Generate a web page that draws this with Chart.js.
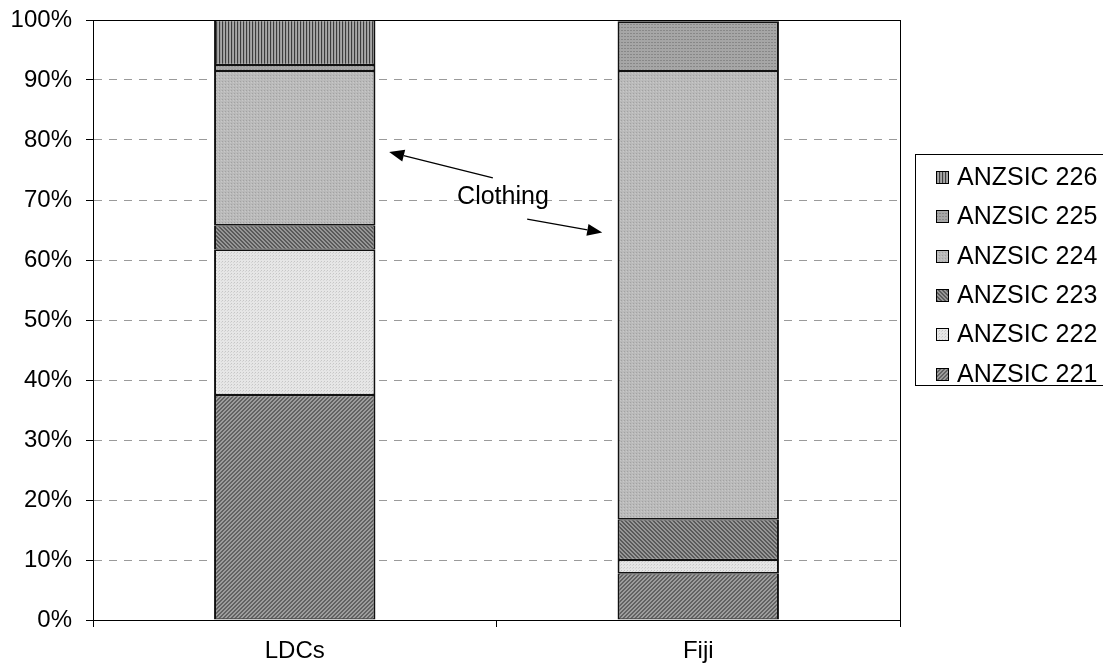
<!DOCTYPE html>
<html>
<head>
<meta charset="utf-8">
<script src="https://cdn.jsdelivr.net/npm/chart.js@4"></script>
<style>
  html, body { margin: 0; padding: 0; background: #fff; }
  #wrap { width: 1103px; height: 670px; }
</style>
</head>
<body>
<div id="wrap"><canvas id="c"></canvas></div>
<script>
// Share of output by ANZSIC class (percent of 100)
const categories = ['LDCs', 'Fiji'];
const seriesNames = ['ANZSIC 221', 'ANZSIC 222', 'ANZSIC 223', 'ANZSIC 224', 'ANZSIC 225', 'ANZSIC 226'];
const anzsic221 = [37.5, 7.8];
const anzsic222 = [24.2, 2.2];
const anzsic223 = [4.1, 6.8];
const anzsic224 = [25.7, 74.7];
const anzsic225 = [1.0, 8.2];
const anzsic226 = [7.5, 0.3];
const yTickLabels = ['0%', '10%', '20%', '30%', '40%', '50%', '60%', '70%', '80%', '90%', '100%'];
const noteText = 'Clothing';

const FONT = "'Liberation Sans', Arial, sans-serif";

// Small repeating tiles used as hatch fills
function makePattern(w, h, paint) {
  const c = document.createElement('canvas');
  c.width = w; c.height = h;
  const g = c.getContext('2d');
  paint(g, w, h);
  return g.createPattern(c, 'repeat');
}
function dot(g, x, y, col) { g.fillStyle = col; g.fillRect(x, y, 1, 1); }

const fill221 = makePattern(4, 4, (g, w, h) => {
  for (let y = 0; y < h; y++) for (let x = 0; x < w; x++)
    dot(g, x, y, ((x + y) % 4) < 2 ? '#626262' : '#9c9c9c');
});
const fill222 = makePattern(3, 3, (g, w, h) => {
  g.fillStyle = '#e6e6e6'; g.fillRect(0, 0, w, h);
  dot(g, 0, 0, '#c6c6c6'); dot(g, 2, 1, '#d4d4d4');
});
const fill223 = makePattern(4, 4, (g, w, h) => {
  for (let y = 0; y < h; y++) for (let x = 0; x < w; x++)
    dot(g, x, y, ((x - y + 8) % 4) < 2 ? '#5a5a5a' : '#969696');
});
const fill224 = makePattern(3, 3, (g, w, h) => {
  g.fillStyle = '#bababa'; g.fillRect(0, 0, w, h);
  dot(g, 0, 0, '#a2a2a2'); dot(g, 2, 1, '#c8c8c8');
});
const fill225 = makePattern(3, 3, (g, w, h) => {
  g.fillStyle = '#a6a6a6'; g.fillRect(0, 0, w, h);
  dot(g, 0, 0, '#888888'); dot(g, 1, 0, '#888888');
});
const fill226 = makePattern(3, 1, (g) => {
  dot(g, 0, 0, '#3c3c3c'); dot(g, 1, 0, '#9a9a9a'); dot(g, 2, 0, '#a8a8a8');
});

const seriesValues = [anzsic221, anzsic222, anzsic223, anzsic224, anzsic225, anzsic226];
const seriesFills = [fill221, fill222, fill223, fill224, fill225, fill226];

const datasets = seriesNames.map((name, i) => ({
  label: name,
  data: seriesValues[i],
  backgroundColor: seriesFills[i],
  borderColor: '#111',
  borderWidth: { left: 2, right: 2, top: 1.2, bottom: 1.2 },
  borderSkipped: false,
  categoryPercentage: 1.0,
  barPercentage: 0.4
}));

// Frame around the plot area
const plotFrame = {
  id: 'plotFrame',
  afterDatasetsDraw(chart) {
    const { left, top, right, bottom } = chart.chartArea;
    const ctx = chart.ctx;
    ctx.save();
    ctx.strokeStyle = '#000';
    ctx.lineWidth = 1;
    ctx.strokeRect(Math.round(left) + 0.5, Math.round(top) + 0.5,
                   Math.round(right - left), Math.round(bottom - top));
    ctx.restore();
  }
};

// Boxed legend on the right, top entry first
const boxedLegend = {
  id: 'boxedLegend',
  afterDraw(chart) {
    const ctx = chart.ctx;
    const x0 = Math.round(chart.chartArea.right) + 15;
    const y0 = 154, w = 300, h = 231;
    ctx.save();
    ctx.strokeStyle = '#000';
    ctx.lineWidth = 1;
    ctx.strokeRect(x0 + 0.5, y0 + 0.5, w, h);
    const items = chart.data.datasets.slice().reverse();
    ctx.font = '25px ' + FONT;
    ctx.textBaseline = 'middle';
    ctx.textAlign = 'left';
    items.forEach((d, i) => {
      const cy = Math.round(y0 + 23 + i * 39.3);
      ctx.fillStyle = d.backgroundColor;
      ctx.fillRect(x0 + 21, cy - 6, 13, 13);
      ctx.strokeStyle = '#000';
      ctx.strokeRect(x0 + 21.5, cy - 5.5, 12, 12);
      ctx.fillStyle = '#000';
      ctx.fillText(d.label, x0 + 42, cy + 1);
    });
    ctx.restore();
  }
};

// "Clothing" note with arrows pointing at both clothing segments
function arrow(ctx, x1, y1, x2, y2) {
  const ang = Math.atan2(y2 - y1, x2 - x1);
  const L = 15, W = 6;
  const bx = x2 - L * Math.cos(ang), by = y2 - L * Math.sin(ang);
  ctx.beginPath();
  ctx.moveTo(x1, y1);
  ctx.lineTo(bx, by);
  ctx.stroke();
  ctx.beginPath();
  ctx.moveTo(x2, y2);
  ctx.lineTo(bx + W * Math.sin(ang), by - W * Math.cos(ang));
  ctx.lineTo(bx - W * Math.sin(ang), by + W * Math.cos(ang));
  ctx.closePath();
  ctx.fill();
}
const clothingNote = {
  id: 'clothingNote',
  afterDatasetsDraw(chart) {
    const xs = chart.scales.x, ys = chart.scales.y;
    const ctx = chart.ctx;
    const X = v => xs.getPixelForValue(v);
    const Y = v => ys.getPixelForValue(v);
    ctx.save();
    ctx.strokeStyle = '#000';
    ctx.fillStyle = '#000';
    ctx.lineWidth = 1.2;
    arrow(ctx, X(0.491), Y(73.7), X(0.234), Y(78.0));
    arrow(ctx, X(0.576), Y(66.8), X(0.762), Y(64.6));
    ctx.font = '25px ' + FONT;
    ctx.textAlign = 'center';
    ctx.textBaseline = 'middle';
    ctx.fillText(noteText, X(0.516), Y(70.4));
    ctx.restore();
  }
};

new Chart(document.getElementById('c'), {
  type: 'bar',
  data: { labels: categories, datasets },
  options: {
    responsive: true,
    maintainAspectRatio: false,
    animation: false,
    devicePixelRatio: 1,
    layout: { padding: { top: 20, right: 203, left: 0, bottom: 0 } },
    plugins: { legend: { display: false }, tooltip: { enabled: false } },
    scales: {
      x: {
        stacked: true,
        afterFit(s) { s.height = 50; s.paddingLeft = 0; s.paddingRight = 0; },
        grid: { offset: true, drawOnChartArea: false, drawTicks: true, tickLength: 7, color: '#000', tickColor: '#000' },
        border: { display: true, color: '#000', width: 1 },
        ticks: { color: '#000', padding: 10, font: { family: FONT, size: 24 } }
      },
      y: {
        stacked: true,
        min: 0, max: 100,
        afterFit(s) { s.width = 93; s.paddingTop = 0; s.paddingBottom = 0; },
        afterBuildTicks(s) { s.ticks = yTickLabels.map((_, i) => ({ value: i * 10 })); },
        grid: { color: '#9a9a9a', lineWidth: 1, tickLength: 7, tickColor: '#000', tickBorderDash: [] },
        border: { display: true, color: '#000', width: 1, dash: [8, 7] },
        ticks: {
          color: '#000', padding: 14, font: { family: FONT, size: 24 },
          callback: (v, i) => yTickLabels[i]
        }
      }
    }
  },
  plugins: [plotFrame, clothingNote, boxedLegend]
});
</script>
</body>
</html>
